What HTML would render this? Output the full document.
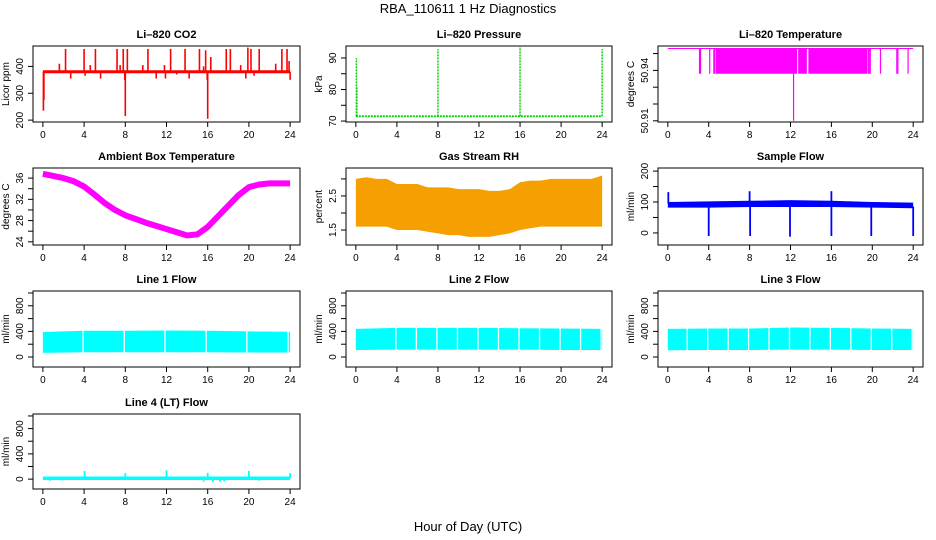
<!DOCTYPE html>
<html><head><meta charset="utf-8">
<style>
body{margin:0;background:#fff;}
svg{display:block;font-family:"Liberation Sans",sans-serif;}
.tk{font-size:10px;fill:#000;}
.tt{font-size:11px;font-weight:bold;fill:#000;}
</style></head>
<body>
<svg id="c" width="936" height="540" viewBox="0 0 936 540">
<text x="468" y="13" text-anchor="middle" font-size="13">RBA_110611  1 Hz Diagnostics</text>
<text x="468" y="531" text-anchor="middle" font-size="13">Hour of Day (UTC)</text>
</svg>
<script>
// ---- data ----
const xTicks=[0,4,8,12,16,20,24];
const co2Base=[380,380];
const co2SpikeHours=[0.05,0.1,1.6,2.2,2.7,3.3,4.0,4.1,4.6,5.1,5.6,6.5,7.2,7.5,7.8,7.95,8.0,8.2,9.7,10.2,11.0,11.8,11.9,12.4,13.0,13.8,14.2,14.9,15.2,15.6,15.8,15.95,16.0,16.3,17.3,17.8,18.2,19.2,19.7,19.9,20.2,20.5,21.0,22.6,23.2,23.7,23.9,24.0];
const co2SpikeVals=[235,275,410,465,355,385,465,365,405,465,355,385,465,405,465,350,215,465,405,465,355,405,355,465,370,465,355,385,465,400,460,350,205,435,385,465,465,405,355,470,465,365,465,410,465,465,420,350];
const presBaseline=71.5;
const presSpikeHours=[0.05,0.1,8.0,16.0,24.0];
const presSpikeVals=[90,81,92.8,93.5,92.8];
const tempTop=50.953, tempLow=50.938;
const tempLineHours=[3.1,3.2,4.1,4.5,4.6,19.6,19.7,19.8,20.8,22.4,22.5,23.5];
const tempFillStart=[4.7,12.75,13.75];
const tempFillEnd=[12.65,13.6,19.5];
const tempDipHour=12.3, tempDipVal=50.91;
const ambHours=[0,1,2,3,4,5,6,7,8,9,10,11,12,13,14,15,16,17,18,19,20,21,22,23,24];
const ambVals=[36.8,36.4,36.0,35.4,34.4,32.9,31.3,30.0,29.0,28.3,27.6,27.0,26.4,25.8,25.2,25.4,26.8,28.8,30.8,32.8,34.3,34.8,35.0,35.0,35.0];
const rhHours=[0,1,2,3,4,5,6,7,8,9,10,11,12,13,14,15,16,17,18,19,20,21,22,23,24];
const rhLo=[1.6,1.6,1.6,1.6,1.5,1.5,1.5,1.45,1.4,1.35,1.35,1.3,1.3,1.3,1.35,1.4,1.5,1.55,1.6,1.6,1.6,1.6,1.6,1.6,1.6];
const rhHi=[3.0,3.05,3.0,3.0,2.85,2.85,2.85,2.75,2.75,2.75,2.7,2.7,2.7,2.65,2.65,2.7,2.9,2.95,2.95,3.0,3.0,3.0,3.0,3.0,3.1];
const sfHours=[0,4,8,12,16,20,24];
const sfLo=[82,82,84,84,84,82,80];
const sfHi=[100,102,104,106,104,100,98];
const sfDipHours=[4.0,8.05,11.95,16.0,19.9,24.0];
const sfDipVals=[-10,-10,-12,-10,-10,-10];
const sfSpikeHours=[0.05,8.0,16.0];
const sfSpikeVals=[132,135,135];
const l1Lo=[65,75,75,75,75,70,70], l1Hi=[390,410,410,415,410,400,395];
const l1Gaps=[3.9,7.9,11.85,15.85,19.8,23.8];
const l2Lo=[110,115,115,115,115,110,110], l2Hi=[440,455,455,455,450,445,440];
const l2Gaps=[3.9,5.9,7.9,9.9,11.9,13.9,15.9,17.9,19.9,21.9,23.9];
const l3Lo=[105,110,110,115,115,110,110], l3Hi=[440,445,445,460,455,445,440];
const l3Gaps=[1.9,3.9,5.9,7.9,9.9,11.9,13.9,15.9,17.9,19.9,21.9,23.9];
const l4Base=15;
const l4SpikeHours=[4.05,8.0,12.0,16.0,20.0,24.0,0.7,1.9,15.6,16.5,17.2,17.6,21.0];
const l4SpikeVals=[130,95,140,100,130,95,-25,-20,-40,-45,-40,-35,-25];
const flowTicks=[-200,0,200,400,600,800,1000];
const flowLabels=["","0","","400","","800",""];

// ---- helpers ----
const svg=document.getElementById('c');
const NS='http://www.w3.org/2000/svg';
function mk(tag,at,parent){const e=document.createElementNS(NS,tag);for(const k in at)e.setAttribute(k,at[k]);(parent||svg).appendChild(e);return e;}
function panel(name,title,L,T,R,B,ymin,ymax,yt,yl,ylab){
  const g=mk('g',{});
  
  
  const xs=h=>L+(h+0.96)/25.92*(R-L);
  const ys=v=>B-(v-ymin)/(ymax-ymin)*(B-T);
  const t=mk('text',{x:(L+R)/2,y:T-8,'text-anchor':'middle',class:'tt'},g);t.textContent=title;
  
  
  xTicks.forEach(h=>{const x=xs(h);mk('line',{x1:x,x2:x,y1:B,y2:B+5,stroke:'#000'},g);
    const s=mk('text',{x:x,y:B+16,'text-anchor':'middle',class:'tk'},g);s.textContent=h;});
  yt.forEach((v,i)=>{const y=ys(v);if(y<T-0.5||y>B+0.5)return;mk('line',{x1:L-5,x2:L,y1:y,y2:y,stroke:'#000'},g);
    if(yl[i]!==''){const s=mk('text',{x:L-10,y:y,'text-anchor':'middle',class:'tk',transform:`rotate(-90 ${L-10} ${y})`},g);s.textContent=yl[i];}});
  const a=mk('text',{x:L-24,y:(T+B)/2,'text-anchor':'middle',class:'tk',transform:`rotate(-90 ${L-24} ${(T+B)/2})`},g);a.textContent=ylab;
  
  
  const d=mk('g',{},g);
  
  
  mk('rect',{x:L,y:T,width:R-L,height:B-T,fill:'none',stroke:'#000'},g);
  return {g:d,xs,ys};
}
function band(p,hours,lo,hi,fill){
  let pts=hours.map((h,i)=>p.xs(h)+','+p.ys(hi[i]));
  for(let i=hours.length-1;i>=0;i--)pts.push(p.xs(hours[i])+','+p.ys(lo[i]));
  return mk('polygon',{points:pts.join(' '),fill:fill},p.g);
}
function vl(p,h,v1,v2,col,w){return mk('line',{x1:p.xs(h),x2:p.xs(h),y1:p.ys(v1),y2:p.ys(v2),stroke:col,'stroke-width':w||1.5},p.g);}

const C=[[33,300],[346,612],[658,923]];
const Rw=[[46,122],[168,245],[291,367],[414,489]];

// CO2
let p=panel('co2-panel','Li\u2013820 CO2',C[0][0],Rw[0][0],C[0][1],Rw[0][1],193,476,[200,300,400],['200','300','400'],'Licor ppm');
co2SpikeHours.forEach((h,i)=>vl(p,h,co2Base[0],co2SpikeVals[i],'#ff0000',1.6));
mk('line',{x1:p.xs(0),x2:p.xs(24),y1:p.ys(co2Base[0]),y2:p.ys(co2Base[1]),stroke:'#ff0000','stroke-width':3},p.g);

// Pressure
p=panel('pressure-panel','Li\u2013820 Pressure',C[1][0],Rw[0][0],C[1][1],Rw[0][1],69.7,93.8,[70,75,80,85,90],['70','','80','','90'],'kPa');
mk('line',{x1:p.xs(0),x2:p.xs(24),y1:p.ys(presBaseline),y2:p.ys(presBaseline),stroke:'#00cc00','stroke-width':1.8,'stroke-dasharray':'2 1'},p.g);
presSpikeHours.forEach((h,i)=>vl(p,h,presBaseline,presSpikeVals[i],'#00cc00',1.4).setAttribute('stroke-dasharray','2 1'));

// Li-820 Temperature
p=panel('li820-temperature-panel','Li\u2013820 Temperature',C[2][0],Rw[0][0],C[2][1],Rw[0][1],50.9093,50.9545,[50.91,50.92,50.93,50.94,50.95],['50.91','','','50.94',''],'degrees C');
mk('line',{x1:p.xs(0),x2:p.xs(24),y1:p.ys(tempTop),y2:p.ys(tempTop),stroke:'#ff00ff'},p.g);
tempLineHours.forEach(h=>vl(p,h,tempTop,tempLow,'#ff00ff',1.2));
tempFillStart.forEach((s,i)=>mk('rect',{x:p.xs(s),y:p.ys(tempTop),width:p.xs(tempFillEnd[i])-p.xs(s),height:p.ys(tempLow)-p.ys(tempTop),fill:'#ff00ff'},p.g));
vl(p,tempDipHour,tempLow,tempDipVal,'#ff00ff',1.2);

// Ambient
p=panel('ambient-temperature-panel','Ambient Box Temperature',C[0][0],Rw[1][0],C[0][1],Rw[1][1],23.4,37.9,[24,26,28,30,32,34,36],['24','','28','','32','','36'],'degrees C');
mk('polyline',{points:ambHours.map((h,i)=>p.xs(h)+','+p.ys(ambVals[i])).join(' '),fill:'none',stroke:'#ff00ff','stroke-width':6,'stroke-linejoin':'round'},p.g);

// RH
p=panel('rh-panel','Gas Stream RH',C[1][0],Rw[1][0],C[1][1],Rw[1][1],1.06,3.32,[1.5,2,2.5,3],['1.5','','2.5',''],'percent');
band(p,rhHours,rhLo,rhHi,'#f5a000');

// Sample flow
p=panel('sample-flow-panel','Sample Flow',C[2][0],Rw[1][0],C[2][1],Rw[1][1],-39,210,[0,50,100,150,200],['0','','100','','200'],'ml/min');
band(p,sfHours,sfLo,sfHi,'#0000ff');
sfDipHours.forEach((h,i)=>vl(p,h,85,sfDipVals[i],'#0000ff',1.8));
sfSpikeHours.forEach((h,i)=>vl(p,h,95,sfSpikeVals[i],'#0000ff',1.8));

// Line flows
function flowPanel(name,title,c,r,lo,hi,gaps){
  const q=panel(name,title,C[c][0],Rw[r][0],C[c][1],Rw[r][1],-156,1031,flowTicks,flowLabels,'ml/min');
  band(q,sfHours,lo,hi,'#00ffff');
  gaps.forEach(h=>vl(q,h,lo[0]-5,hi[3]+20,'#ffffff',1.3));
  return q;
}
flowPanel('line1-flow-panel','Line 1 Flow',0,2,l1Lo,l1Hi,l1Gaps);
flowPanel('line2-flow-panel','Line 2 Flow',1,2,l2Lo,l2Hi,l2Gaps);
flowPanel('line3-flow-panel','Line 3 Flow',2,2,l3Lo,l3Hi,l3Gaps);
p=panel('line4-flow-panel','Line 4 (LT) Flow',C[0][0],Rw[3][0],C[0][1],Rw[3][1],-156,1031,flowTicks,flowLabels,'ml/min');
mk('line',{x1:p.xs(0),x2:p.xs(24),y1:p.ys(l4Base),y2:p.ys(l4Base),stroke:'#00ffff','stroke-width':3.5},p.g);
l4SpikeHours.forEach((h,i)=>vl(p,h,l4Base,l4SpikeVals[i],'#00ffff',1.8));
</script>
</body></html>
